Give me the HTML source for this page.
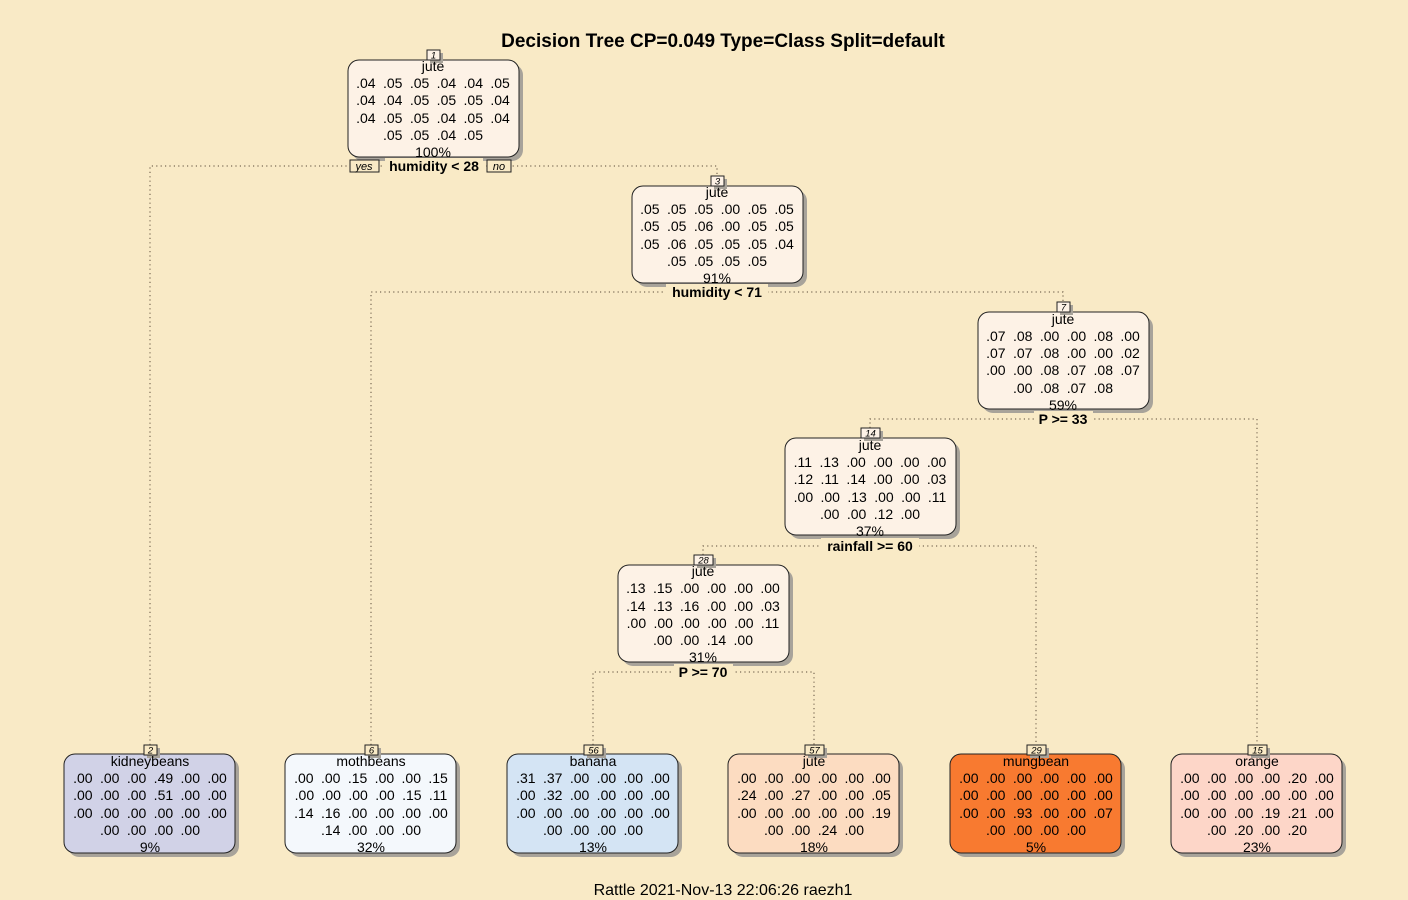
<!DOCTYPE html>
<html><head><meta charset="utf-8"><style>
html,body{margin:0;padding:0;background:#f9eac6;}
svg{display:block;font-family:"Liberation Sans",Arial,sans-serif;}
.r{font-size:14px;text-anchor:middle;word-spacing:3.5px;fill:#000}
.sp{font-size:14px;font-weight:bold;text-anchor:middle}
.nb{font-size:9.5px;font-style:italic;text-anchor:middle}
.ln{stroke:#7a6a55;stroke-width:1.2;stroke-dasharray:1.2 3.2;fill:none}
.box{stroke:#222;stroke-width:1}
</style></head><body>
<svg width="1408" height="900" viewBox="0 0 1408 900">
<rect width="1408" height="900" fill="#f9eac6"/>
<text x="723" y="47" font-size="19" font-weight="bold" text-anchor="middle">Decision Tree CP=0.049 Type=Class Split=default</text>
<text x="723" y="895" font-size="16" text-anchor="middle">Rattle 2021-Nov-13 22:06:26 raezh1</text>

<path class="ln" d="M150 745 V166 H717 V176"/>
<path class="ln" d="M371 745 V292 H1063 V302"/>
<path class="ln" d="M870 428 V419 H1257 V745"/>
<path class="ln" d="M703 555 V546 H1036 V745"/>
<path class="ln" d="M593 745 V672 H814 V745"/>

<g>
<rect x="352" y="64" width="171" height="97" rx="11" fill="#a8a39a"/>
<rect x="348" y="60" width="171" height="97" rx="11" fill="#fdf2e6" class="box"/>
<rect x="430" y="53" width="13" height="10" fill="#a8a39a"/>
<rect x="427" y="50" width="13" height="10" fill="#fdf2e6" class="box"/>
<text class="nb" x="433.5" y="58.5">1</text>
<text class="r" x="433" y="71">jute</text>
<text class="r" x="433" y="88">.04 .05 .05 .04 .04 .05</text>
<text class="r" x="433" y="105">.04 .04 .05 .05 .05 .04</text>
<text class="r" x="433" y="123">.04 .05 .05 .04 .05 .04</text>
<text class="r" x="433" y="140">.05 .05 .04 .05</text>
<text class="r" x="433" y="157">100%</text>
</g>
<rect x="385" y="158" width="98" height="15" fill="#f9eac6"/>
<text class="sp" x="434" y="171">humidity &lt; 28</text>
<rect x="350" y="160" width="29" height="12" fill="#f9eac6" class="box"/>
<text x="364" y="170" font-size="11" font-style="italic" text-anchor="middle">yes</text>
<rect x="487" y="160" width="24" height="12" fill="#f9eac6" class="box"/>
<text x="499" y="170" font-size="11" font-style="italic" text-anchor="middle">no</text>

<g>
<rect x="636" y="190" width="171" height="97" rx="11" fill="#a8a39a"/>
<rect x="632" y="186" width="171" height="97" rx="11" fill="#fdf2e6" class="box"/>
<rect x="714" y="179" width="13" height="10" fill="#a8a39a"/>
<rect x="711" y="176" width="13" height="10" fill="#fdf2e6" class="box"/>
<text class="nb" x="717.5" y="184.5">3</text>
<text class="r" x="717" y="197">jute</text>
<text class="r" x="717" y="214">.05 .05 .05 .00 .05 .05</text>
<text class="r" x="717" y="231">.05 .05 .06 .00 .05 .05</text>
<text class="r" x="717" y="249">.05 .06 .05 .05 .05 .04</text>
<text class="r" x="717" y="266">.05 .05 .05 .05</text>
<text class="r" x="717" y="283">91%</text>
</g>
<rect x="666" y="284" width="102" height="15" fill="#f9eac6"/>
<text class="sp" x="717" y="297">humidity &lt; 71</text>

<g>
<rect x="982" y="316" width="171" height="97" rx="11" fill="#a8a39a"/>
<rect x="978" y="312" width="171" height="97" rx="11" fill="#fdf2e6" class="box"/>
<rect x="1060" y="305" width="13" height="10" fill="#a8a39a"/>
<rect x="1057" y="302" width="13" height="10" fill="#fdf2e6" class="box"/>
<text class="nb" x="1063.5" y="310.5">7</text>
<text class="r" x="1063" y="324">jute</text>
<text class="r" x="1063" y="341">.07 .08 .00 .00 .08 .00</text>
<text class="r" x="1063" y="358">.07 .07 .08 .00 .00 .02</text>
<text class="r" x="1063" y="375">.00 .00 .08 .07 .08 .07</text>
<text class="r" x="1063" y="393">.00 .08 .07 .08</text>
<text class="r" x="1063" y="410">59%</text>
</g>
<rect x="1034" y="411" width="59" height="15" fill="#f9eac6"/>
<text class="sp" x="1063" y="424">P &gt;= 33</text>

<g>
<rect x="789" y="442" width="171" height="97" rx="11" fill="#a8a39a"/>
<rect x="785" y="438" width="171" height="97" rx="11" fill="#fdf2e6" class="box"/>
<rect x="864" y="431" width="19" height="10" fill="#a8a39a"/>
<rect x="861" y="428" width="19" height="10" fill="#fdf2e6" class="box"/>
<text class="nb" x="870.5" y="436.5">14</text>
<text class="r" x="870" y="450">jute</text>
<text class="r" x="870" y="467">.11 .13 .00 .00 .00 .00</text>
<text class="r" x="870" y="484">.12 .11 .14 .00 .00 .03</text>
<text class="r" x="870" y="502">.00 .00 .13 .00 .00 .11</text>
<text class="r" x="870" y="519">.00 .00 .12 .00</text>
<text class="r" x="870" y="536">37%</text>
</g>
<rect x="821" y="538" width="98" height="15" fill="#f9eac6"/>
<text class="sp" x="870" y="551">rainfall &gt;= 60</text>

<g>
<rect x="622" y="569" width="171" height="97" rx="11" fill="#a8a39a"/>
<rect x="618" y="565" width="171" height="97" rx="11" fill="#fdf2e6" class="box"/>
<rect x="697" y="558" width="19" height="10" fill="#a8a39a"/>
<rect x="694" y="555" width="19" height="10" fill="#fdf2e6" class="box"/>
<text class="nb" x="703.5" y="563.5">28</text>
<text class="r" x="703" y="576">jute</text>
<text class="r" x="703" y="593">.13 .15 .00 .00 .00 .00</text>
<text class="r" x="703" y="611">.14 .13 .16 .00 .00 .03</text>
<text class="r" x="703" y="628">.00 .00 .00 .00 .00 .11</text>
<text class="r" x="703" y="645">.00 .00 .14 .00</text>
<text class="r" x="703" y="662">31%</text>
</g>
<rect x="674" y="664" width="59" height="15" fill="#f9eac6"/>
<text class="sp" x="703" y="677">P &gt;= 70</text>

<g>
<rect x="68" y="758" width="171" height="99" rx="11" fill="#a8a39a"/>
<rect x="64" y="754" width="171" height="99" rx="11" fill="#d1d2e7" class="box"/>
<rect x="147" y="748" width="13" height="10" fill="#a8a39a"/>
<rect x="144" y="745" width="13" height="10" fill="#f9eac6" class="box"/>
<text class="nb" x="150.5" y="753.5">2</text>
<text class="r" x="150" y="766">kidneybeans</text>
<text class="r" x="150" y="783">.00 .00 .00 .49 .00 .00</text>
<text class="r" x="150" y="800">.00 .00 .00 .51 .00 .00</text>
<text class="r" x="150" y="818">.00 .00 .00 .00 .00 .00</text>
<text class="r" x="150" y="835">.00 .00 .00 .00</text>
<text class="r" x="150" y="852">9%</text>
</g>
<g>
<rect x="289" y="758" width="171" height="99" rx="11" fill="#a8a39a"/>
<rect x="285" y="754" width="171" height="99" rx="11" fill="#f4f8fc" class="box"/>
<rect x="368" y="748" width="13" height="10" fill="#a8a39a"/>
<rect x="365" y="745" width="13" height="10" fill="#f9eac6" class="box"/>
<text class="nb" x="371.5" y="753.5">6</text>
<text class="r" x="371" y="766">mothbeans</text>
<text class="r" x="371" y="783">.00 .00 .15 .00 .00 .15</text>
<text class="r" x="371" y="800">.00 .00 .00 .00 .15 .11</text>
<text class="r" x="371" y="818">.14 .16 .00 .00 .00 .00</text>
<text class="r" x="371" y="835">.14 .00 .00 .00</text>
<text class="r" x="371" y="852">32%</text>
</g>
<g>
<rect x="511" y="758" width="171" height="99" rx="11" fill="#a8a39a"/>
<rect x="507" y="754" width="171" height="99" rx="11" fill="#d4e4f4" class="box"/>
<rect x="587" y="748" width="19" height="10" fill="#a8a39a"/>
<rect x="584" y="745" width="19" height="10" fill="#f9eac6" class="box"/>
<text class="nb" x="593.5" y="753.5">56</text>
<text class="r" x="593" y="766">banana</text>
<text class="r" x="593" y="783">.31 .37 .00 .00 .00 .00</text>
<text class="r" x="593" y="800">.00 .32 .00 .00 .00 .00</text>
<text class="r" x="593" y="818">.00 .00 .00 .00 .00 .00</text>
<text class="r" x="593" y="835">.00 .00 .00 .00</text>
<text class="r" x="593" y="852">13%</text>
</g>
<g>
<rect x="732" y="758" width="171" height="99" rx="11" fill="#a8a39a"/>
<rect x="728" y="754" width="171" height="99" rx="11" fill="#fcdcc1" class="box"/>
<rect x="808" y="748" width="19" height="10" fill="#a8a39a"/>
<rect x="805" y="745" width="19" height="10" fill="#f9eac6" class="box"/>
<text class="nb" x="814.5" y="753.5">57</text>
<text class="r" x="814" y="766">jute</text>
<text class="r" x="814" y="783">.00 .00 .00 .00 .00 .00</text>
<text class="r" x="814" y="800">.24 .00 .27 .00 .00 .05</text>
<text class="r" x="814" y="818">.00 .00 .00 .00 .00 .19</text>
<text class="r" x="814" y="835">.00 .00 .24 .00</text>
<text class="r" x="814" y="852">18%</text>
</g>
<g>
<rect x="954" y="758" width="171" height="99" rx="11" fill="#a8a39a"/>
<rect x="950" y="754" width="171" height="99" rx="11" fill="#f87a30" class="box"/>
<rect x="1030" y="748" width="19" height="10" fill="#a8a39a"/>
<rect x="1027" y="745" width="19" height="10" fill="#f9eac6" class="box"/>
<text class="nb" x="1036.5" y="753.5">29</text>
<text class="r" x="1036" y="766">mungbean</text>
<text class="r" x="1036" y="783">.00 .00 .00 .00 .00 .00</text>
<text class="r" x="1036" y="800">.00 .00 .00 .00 .00 .00</text>
<text class="r" x="1036" y="818">.00 .00 .93 .00 .00 .07</text>
<text class="r" x="1036" y="835">.00 .00 .00 .00</text>
<text class="r" x="1036" y="852">5%</text>
</g>
<g>
<rect x="1175" y="758" width="171" height="99" rx="11" fill="#a8a39a"/>
<rect x="1171" y="754" width="171" height="99" rx="11" fill="#fdd6c8" class="box"/>
<rect x="1251" y="748" width="19" height="10" fill="#a8a39a"/>
<rect x="1248" y="745" width="19" height="10" fill="#f9eac6" class="box"/>
<text class="nb" x="1257.5" y="753.5">15</text>
<text class="r" x="1257" y="766">orange</text>
<text class="r" x="1257" y="783">.00 .00 .00 .00 .20 .00</text>
<text class="r" x="1257" y="800">.00 .00 .00 .00 .00 .00</text>
<text class="r" x="1257" y="818">.00 .00 .00 .19 .21 .00</text>
<text class="r" x="1257" y="835">.00 .20 .00 .20</text>
<text class="r" x="1257" y="852">23%</text>
</g>
</svg>
</body></html>
